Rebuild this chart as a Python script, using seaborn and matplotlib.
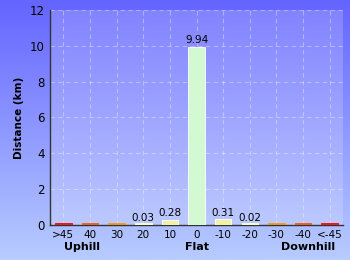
import numpy as np
import pandas as pd
import matplotlib
matplotlib.use("Agg")
import matplotlib.pyplot as plt
import seaborn as sns
from matplotlib.colors import LinearSegmentedColormap

categories = [">45", "40", "30", "20", "10", "0", "-10", "-20", "-30", "-40", "<-45"]
values = [0.0, 0.0, 0.0, 0.03, 0.28, 9.94, 0.31, 0.02, 0.0, 0.0, 0.0]
labels = ["", "", "", "0.03", "0.28", "9.94", "0.31", "0.02", "", "", ""]
colors = ["#ff0000", "#ff5500", "#ff9900", "#ffffcc", "#ffff99", "#ccffcc",
          "#ffff99", "#ffffcc", "#ff9900", "#ff5500", "#ff0000"]
group_labels = ["Uphill", "Flat", "Downhill"]
y_ticks = [0, 2, 4, 6, 8, 10, 12]

sns.set_style("white")
plt.rcParams['font.family'] = ['DejaVu Sans']

fig = plt.figure(figsize=(3.5, 2.6), dpi=100)
# background gradient
bg = fig.add_axes([0, 0, 1, 1], zorder=-10)
grad = np.linspace(0, 1, 256).reshape(-1, 1)
cmap = LinearSegmentedColormap.from_list("bg", ["#6464ff", "#b8ccff"])
bg.imshow(grad, aspect="auto", cmap=cmap, extent=[0, 1, 0, 1], origin="upper")
bg.axis("off")

ax = fig.add_axes([0.143, 0.135, 0.837, 0.827])
ax.set_facecolor((1, 1, 1, 0.18))

df = pd.DataFrame({"cat": categories, "val": [max(v, 0.12) for v in values]})
sns.barplot(data=df, x="cat", y="val", hue="cat", palette=colors, legend=False,
            width=0.62, edgecolor="white", linewidth=0.6, ax=ax, zorder=3)
for p, v, c in zip(ax.patches, values, colors):
    if v < 0.12:
        p.set_edgecolor(c)

for i, (v, lab) in enumerate(zip(values, labels)):
    if lab:
        ax.text(i, v + 0.08, lab, ha="center", va="bottom", fontsize=7.5, color="black", zorder=4)

ax.set_ylim(0, 12)
ax.set_xlim(-0.5, len(categories) - 0.5)
ax.set_yticks(y_ticks)
ax.set_yticks(np.arange(1, 12, 2), minor=True)
ax.tick_params(axis="y", which="major", length=3, width=0.8, color="black", labelsize=8.5,
               labelcolor="black", pad=1)
ax.tick_params(axis="y", which="minor", length=3, width=0.8, color="red", direction="in")
ax.tick_params(axis="x", length=2, width=0.6, labelsize=7.5, labelcolor="black", pad=2)
ax.set_xlabel("")
ax.set_ylabel("Distance (km)", fontsize=7.5, fontweight="bold", labelpad=4, color="black")

ax.grid(True, which="major", axis="both", color="white", alpha=0.35, linestyle=(0, (4, 3)), linewidth=0.8)
ax.set_axisbelow(True)
for s in ["top", "right"]:
    ax.spines[s].set_visible(False)
ax.spines["left"].set_color("#333333")
ax.spines["bottom"].set_color("#333333")
ax.spines["left"].set_linewidth(1.0)
ax.spines["bottom"].set_linewidth(1.0)

for x, g in zip([0.7, 5.0, 9.2], group_labels):
    ax.text(x, -0.08, g, transform=ax.get_xaxis_transform(), ha="center", va="top",
            fontsize=8, fontweight="bold", color="black")

fig.savefig("out.png", dpi=100)
